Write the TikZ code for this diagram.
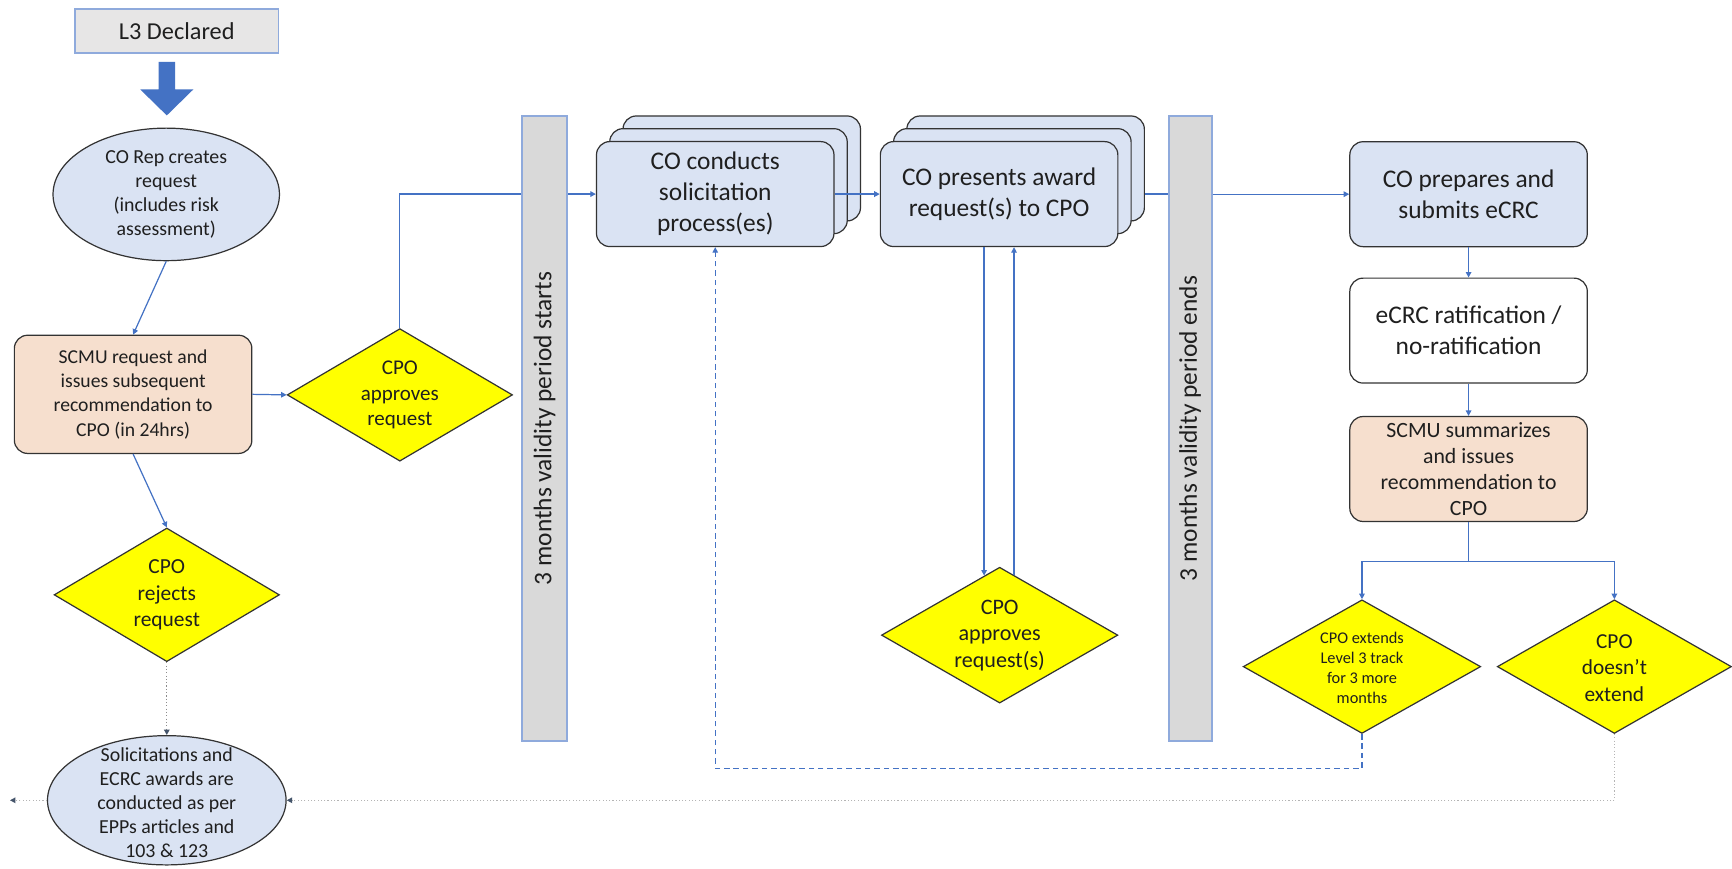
\documentclass[tikz,border=0pt]{standalone}
\usepackage{fontspec}
\setmainfont{Carlito}
\usetikzlibrary{shapes.geometric,arrows.meta,calc}
\definecolor{bfill}{HTML}{DAE3F3}
\definecolor{peach}{HTML}{F6DFCE}
\definecolor{yel}{HTML}{FFFF00}
\definecolor{bargray}{HTML}{D9D9D9}
\definecolor{bbord}{HTML}{8FAADC}
\definecolor{lthree}{HTML}{E7E6E6}
\definecolor{cblue}{HTML}{4472C4}
\definecolor{nodeline}{HTML}{333333}
\definecolor{txtc}{HTML}{1F1F1F}
\definecolor{dotdark}{HTML}{8C8C8C}
\definecolor{dotlight}{HTML}{B4B4B4}
\definecolor{tipdark}{HTML}{44546A}
\begin{document}
\begin{tikzpicture}[x=1pt,y=-1pt,
  rbox/.style={draw=nodeline, line width=1.1pt, rounded corners=12pt, minimum width=215pt, minimum height=95pt, inner sep=0pt, align=center, text=txtc},
  stk/.style={rbox, fill=bfill, font=\fontsize{23}{28}\selectfont},
  dia/.style={diamond, draw=nodeline, line width=1.1pt, fill=yel, inner sep=0pt},
  ell/.style={ellipse, draw=nodeline, line width=1.1pt, fill=bfill, inner sep=0pt},
  bar/.style={draw=bbord, line width=1.5pt, fill=bargray, inner sep=0pt},
  txt/.style={inner sep=0pt, align=center, text=txtc},
  plain/.style={draw=cblue, line width=1.1pt},
  conn/.style={plain, -{Triangle[length=5pt,width=5pt]}},
  dashc/.style={draw=cblue, line width=1.1pt, dash pattern=on 5pt off 3.5pt, -{Triangle[length=5pt,width=5pt]}},
  dotd/.style={draw=dotdark, line width=1.2pt, dash pattern=on 1pt off 2pt, -{Triangle[length=5pt,width=5pt,color=tipdark]}},
  dotl/.style={draw=dotlight, line width=1.2pt, dash pattern=on 1pt off 2pt, -{Triangle[length=5pt,width=5pt,color=tipdark]}}
]
\useasboundingbox (0,0) rectangle (1568,786);
\fill[white] (0,0) rectangle (1568,786);

% top
\node[draw=bbord, line width=1.5pt, fill=lthree, minimum width=184pt, minimum height=40pt, inner sep=0pt, text=txtc, font=\fontsize{22}{26}\selectfont] (l3) at (160,28) {L3 Declared};
\fill[cblue] (143.5,56) -- (158.5,56) -- (158.5,81) -- (175,81) -- (151,104.5) -- (127,81) -- (143.5,81) -- cycle;

% left column
\node[ell, minimum width=205pt, minimum height=120pt] (ell1) at (150.5,176) {};
\node[txt, font=\fontsize{18}{21.7}\selectfont] at (ell1) {CO Rep creates\\request\\(includes risk\\assessment)};

\node[rbox, fill=peach, minimum height=107pt, font=\fontsize{17.8}{22}\selectfont] (scmu1) at (120.5,357) {SCMU request and\\issues subsequent\\recommendation to\\CPO (in 24hrs)};

\node[dia, minimum width=204pt, minimum height=120pt] (d1) at (362,357.5) {};
\node[txt, font=\fontsize{19}{23.5}\selectfont] at (d1) {CPO\\approves\\request};

\node[dia, minimum width=204pt, minimum height=121pt] (d2) at (151,538.5) {};
\node[txt, font=\fontsize{19.4}{24}\selectfont] at (d2) {CPO\\rejects\\request};

\node[ell, minimum width=216pt, minimum height=117pt] (ell2) at (151,724.5) {};
\node[txt, font=\fontsize{18}{21.7}\selectfont] at ($(ell2)+(0,2)$) {Solicitations and\\ECRC awards are\\conducted as per\\EPPs articles and\\103 \& 123};

% bars
\node[bar, minimum width=41pt, minimum height=566pt] (bar1) at (493,388) {};
\node[txt, rotate=90, font=\fontsize{23}{28}\selectfont] at (bar1) {3 months validity period starts};
\node[bar, minimum width=39pt, minimum height=566pt] (bar2) at (1077.5,388) {};
\node[txt, rotate=90, font=\fontsize{23}{28}\selectfont] at (bar2) {3 months validity period ends};

% stacks
\node[stk] (s1c) at (671.5,152.5) {};
\node[stk] (s1b) at (659.5,164) {};
\node[stk] (s1) at (647.5,175.7) {CO conducts\\solicitation\\process(es)};
\node[stk] (s2c) at (928.5,152.5) {};
\node[stk] (s2b) at (916.5,164) {};
\node[stk] (s2) at (904.5,175.7) {CO presents award\\request(s) to CPO};

\node[dia, minimum width=214pt, minimum height=123pt] (d3) at (905,575) {};
\node[txt, font=\fontsize{20}{24}\selectfont] at (d3) {CPO\\approves\\request(s)};

% right column
\node[rbox, fill=bfill, font=\fontsize{23}{27.5}\selectfont] (coprep) at (1329.5,175.8) {CO prepares and\\submits eCRC};
\node[rbox, fill=white, font=\fontsize{23}{28}\selectfont] (ecrc) at (1329.5,299.3) {eCRC ratification /\\no-ratification};
\node[rbox, fill=peach, font=\fontsize{19.7}{23.5}\selectfont] (scmu2) at (1329.5,424.6) {SCMU summarizes\\and issues\\recommendation to\\CPO};

\node[dia, minimum width=215pt, minimum height=121pt] (d4) at (1233,603.5) {};
\node[txt, font=\fontsize{14.8}{18}\selectfont] at ($(d4)+(0,1)$) {CPO extends\\Level 3 track\\for 3 more\\months};
\node[dia, minimum width=212pt, minimum height=121pt] (d5) at (1461.5,603.5) {};
\node[txt, font=\fontsize{19.3}{24}\selectfont] at ($(d5)+(0,1)$) {CPO\\doesn’t\\extend};

% connectors
\draw[conn] (ell1.south) -- (scmu1.north);
\draw[conn] (scmu1.east) -- (d1.west);
\draw[conn] (scmu1.south) -- (d2.north);
\draw[dotd] (d2.south) -- (ell2.north);
\draw[plain] (d1.north) |- (bar1.west |- s1.west);
\draw[conn] (bar1.east |- s1.west) -- (s1.west);
\draw[conn, line width=1.8pt] (s1.east) -- (s2.west);
\draw[plain] (s2c.east |- s2.east) -- (bar2.west |- s2.east);
\draw[conn] (bar2.east |- coprep.west) -- (coprep.west);
\draw[conn] (coprep.south) -- (ecrc.north);
\draw[conn] (ecrc.south) -- (scmu2.north);
\coordinate (split) at ($(scmu2.south)+(0,36)$);
\draw[plain] (scmu2.south) -- (split);
\draw[conn] (split) -| (d4.north);
\draw[conn] (split) -| (d5.north);
\coordinate (d3a) at ($(d3.north)!0.131!(d3.west)$);
\coordinate (d3b) at ($(d3.north)!0.121!(d3.east)$);
\draw[conn] (s2.south -| d3a) -- (d3a);
\draw[conn] (d3b) -- (s2.south -| d3b);
\draw[dashc] (d4.south) -- ++(0,31) -| (s1.south);
\draw[dotl] (d5.south) |- (ell2.east);
\coordinate (lend) at (9,724.5);
\draw[dotl] (ell2.west) -- (lend);
\end{tikzpicture}
\end{document}
